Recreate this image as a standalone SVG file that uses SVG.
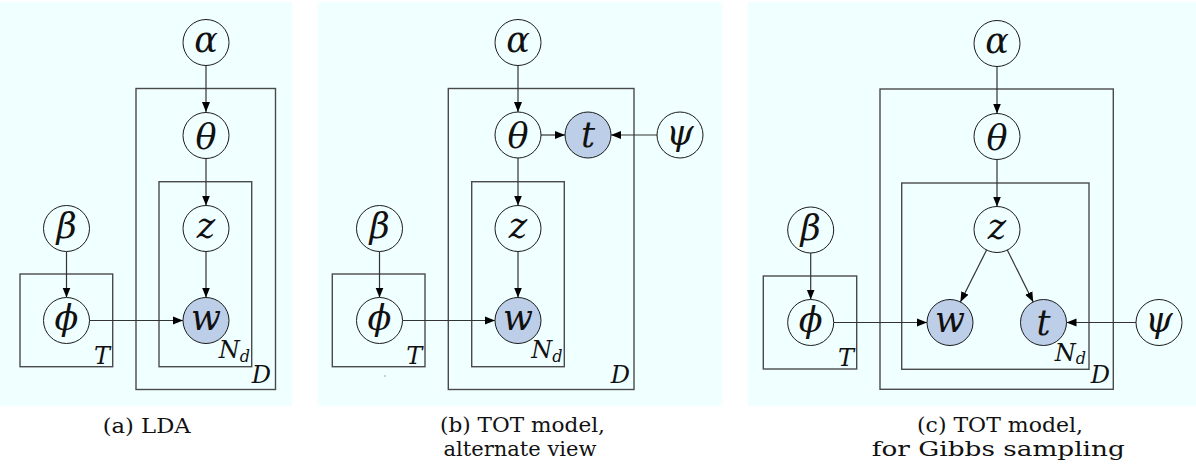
<svg xmlns="http://www.w3.org/2000/svg" width="1196" height="468" viewBox="0 0 1196 468">
<style>
.bg{fill:#F0FFFF;stroke:none}
.nd{fill:#F0FFFF;stroke:#1a1a1a;stroke-width:1}
.obs{fill:#BDCEE8;stroke:#1a1a1a;stroke-width:1}
.plate{fill:none;stroke:#4a4a4a;stroke-width:1.4}
.m{font-family:DejaVu Serif, serif;font-style:italic;font-size:35px;fill:#111;text-anchor:middle}
.pl{font-family:DejaVu Serif, serif;font-style:italic;font-size:24px;fill:#111;text-anchor:end}
.cap{font-family:DejaVu Serif, serif;font-size:21px;fill:#111;text-anchor:middle}
.e{fill:none;stroke:#333;stroke-width:1.2;marker-end:url(#ah)}
</style>
<defs>
<marker id="ah" markerUnits="userSpaceOnUse" markerWidth="11" markerHeight="9" refX="10" refY="4.5" orient="auto">
<path d="M0,0.5 L10,4.5 L0,8.5 z" fill="#000"/>
</marker>
</defs>

<rect class="bg" x="0" y="2" width="292" height="404"/>
<rect class="bg" x="318" y="2" width="404" height="404"/>
<rect class="bg" x="748" y="2" width="448" height="404"/>

<g id="plates-a">
<rect class="plate" x="136" y="88.5" width="139.5" height="301"/>
<rect class="plate" x="159" y="181.7" width="92.7" height="185"/>
<rect class="plate" x="20" y="274" width="92.7" height="92.7"/>
<text class="pl" x="271" y="383.3">D</text>
<text class="pl" x="250" y="358.3">N<tspan font-size="16px" dy="3.5">d</tspan></text>
<text class="pl" x="110" y="363.5">T</text>
</g>
<g id="plates-b">
<rect class="plate" x="448.3" y="88.5" width="185.7" height="301"/>
<rect class="plate" x="471.7" y="181.7" width="92.6" height="185"/>
<rect class="plate" x="332.3" y="274" width="92.7" height="92.7"/>
<text class="pl" x="630" y="383.3">D</text>
<text class="pl" x="562.5" y="358.3">N<tspan font-size="16px" dy="3.5">d</tspan></text>
<text class="pl" x="422.3" y="363.5">T</text>
<circle cx="385" cy="376" r="0.7" fill="#888"/>
</g>
<g id="plates-c">
<rect class="plate" x="880" y="89" width="233.3" height="300.3"/>
<rect class="plate" x="901.7" y="183" width="187.3" height="186.3"/>
<rect class="plate" x="763.3" y="276" width="93.4" height="93"/>
<text class="pl" x="1110" y="383.3">D</text>
<text class="pl" x="1086" y="360.5">N<tspan font-size="16px" dy="3.5">d</tspan></text>
<text class="pl" x="854" y="365.5">T</text>
</g>

<g id="connectors">
<line class="e" x1="206" y1="65.5" x2="206" y2="112"/>
<line class="e" x1="206" y1="158.5" x2="206" y2="205.5"/>
<line class="e" x1="206" y1="251.5" x2="206" y2="297.5"/>
<line class="e" x1="66.5" y1="251.5" x2="66.5" y2="297.5"/>
<line class="e" x1="89.5" y1="320.5" x2="183" y2="320.5"/>
<line class="e" x1="518" y1="65.5" x2="518" y2="112"/>
<line class="e" x1="518" y1="158" x2="518" y2="205.5"/>
<line class="e" x1="518" y1="251.5" x2="518" y2="297.5"/>
<line class="e" x1="379.5" y1="251.5" x2="379.5" y2="297.5"/>
<line class="e" x1="402.5" y1="320.5" x2="495" y2="320.5"/>
<line class="e" x1="541" y1="135" x2="565" y2="135"/>
<line class="e" x1="657" y1="135" x2="611" y2="135"/>
<line class="e" x1="997" y1="66.5" x2="997" y2="113.5"/>
<line class="e" x1="997" y1="159.5" x2="997" y2="206.5"/>
<line class="e" x1="810.7" y1="253" x2="810.7" y2="299.5"/>
<line class="e" x1="833.7" y1="322.5" x2="927" y2="322.5"/>
<line class="e" x1="986.6" y1="250" x2="960.4" y2="302"/>
<line class="e" x1="1007.3" y1="250" x2="1033.2" y2="302"/>
<line class="e" x1="1136" y1="322.5" x2="1066.5" y2="322.5"/>
</g>

<g id="a-alpha"><circle class="nd" cx="206" cy="42.5" r="23"/><text class="m" x="206" y="51.5">α</text></g>
<g id="a-theta"><circle class="nd" cx="206" cy="135.5" r="23"/><text class="m" x="206" y="148.5">θ</text></g>
<g id="a-z"><circle class="nd" cx="206" cy="228.5" r="23"/><text class="m" x="206" y="237.5">z</text></g>
<g id="a-w"><circle class="obs" cx="206" cy="320.5" r="23"/><text class="m" x="206" y="329.5">w</text></g>
<g id="a-beta"><circle class="nd" cx="66.5" cy="228.5" r="23"/><text class="m" x="66.5" y="238">β</text></g>
<g id="a-phi"><circle class="nd" cx="66.5" cy="320.5" r="23"/><text class="m" x="66.5" y="330">ϕ</text></g>

<g id="b-alpha"><circle class="nd" cx="518" cy="42.5" r="23"/><text class="m" x="518" y="51.5">α</text></g>
<g id="b-theta"><circle class="nd" cx="518" cy="135" r="23"/><text class="m" x="518" y="148">θ</text></g>
<g id="b-t"><circle class="obs" cx="588" cy="135" r="23"/><text class="m" x="588" y="147">t</text></g>
<g id="b-psi"><circle class="nd" cx="680" cy="135" r="23"/><text class="m" x="680" y="144.5">ψ</text></g>
<g id="b-z"><circle class="nd" cx="518" cy="228.5" r="23"/><text class="m" x="518" y="237.5">z</text></g>
<g id="b-w"><circle class="obs" cx="518" cy="320.5" r="23"/><text class="m" x="518" y="329.5">w</text></g>
<g id="b-beta"><circle class="nd" cx="379.5" cy="228.5" r="23"/><text class="m" x="379.5" y="238">β</text></g>
<g id="b-phi"><circle class="nd" cx="379.5" cy="320.5" r="23"/><text class="m" x="379.5" y="330">ϕ</text></g>

<g id="c-alpha"><circle class="nd" cx="997" cy="43.5" r="23"/><text class="m" x="997" y="52.5">α</text></g>
<g id="c-theta"><circle class="nd" cx="997" cy="136.5" r="23"/><text class="m" x="997" y="149.5">θ</text></g>
<g id="c-z"><circle class="nd" cx="997" cy="229.5" r="23"/><text class="m" x="997" y="238.5">z</text></g>
<g id="c-w"><circle class="obs" cx="950" cy="322.5" r="23"/><text class="m" x="950" y="331.5">w</text></g>
<g id="c-t"><circle class="obs" cx="1043.5" cy="322.5" r="23"/><text class="m" x="1043.5" y="334.5">t</text></g>
<g id="c-psi"><circle class="nd" cx="1159" cy="322.5" r="23"/><text class="m" x="1159" y="332">ψ</text></g>
<g id="c-beta"><circle class="nd" cx="810.7" cy="230" r="23"/><text class="m" x="810.7" y="239.5">β</text></g>
<g id="c-phi"><circle class="nd" cx="810.7" cy="322.5" r="23"/><text class="m" x="810.7" y="332">ϕ</text></g>

<g id="captions">
<text class="cap" x="146.7" y="432.5" textLength="88" lengthAdjust="spacingAndGlyphs">(a) LDA</text>
<text class="cap" x="522.5" y="432" textLength="165" lengthAdjust="spacingAndGlyphs">(b) TOT model,</text>
<text class="cap" x="520" y="455.5" textLength="153" lengthAdjust="spacingAndGlyphs">alternate view</text>
<text class="cap" x="1000" y="432" textLength="166" lengthAdjust="spacingAndGlyphs">(c) TOT model,</text>
<text class="cap" x="998.3" y="455.5" textLength="253" lengthAdjust="spacingAndGlyphs">for Gibbs sampling</text>
</g>
</svg>
